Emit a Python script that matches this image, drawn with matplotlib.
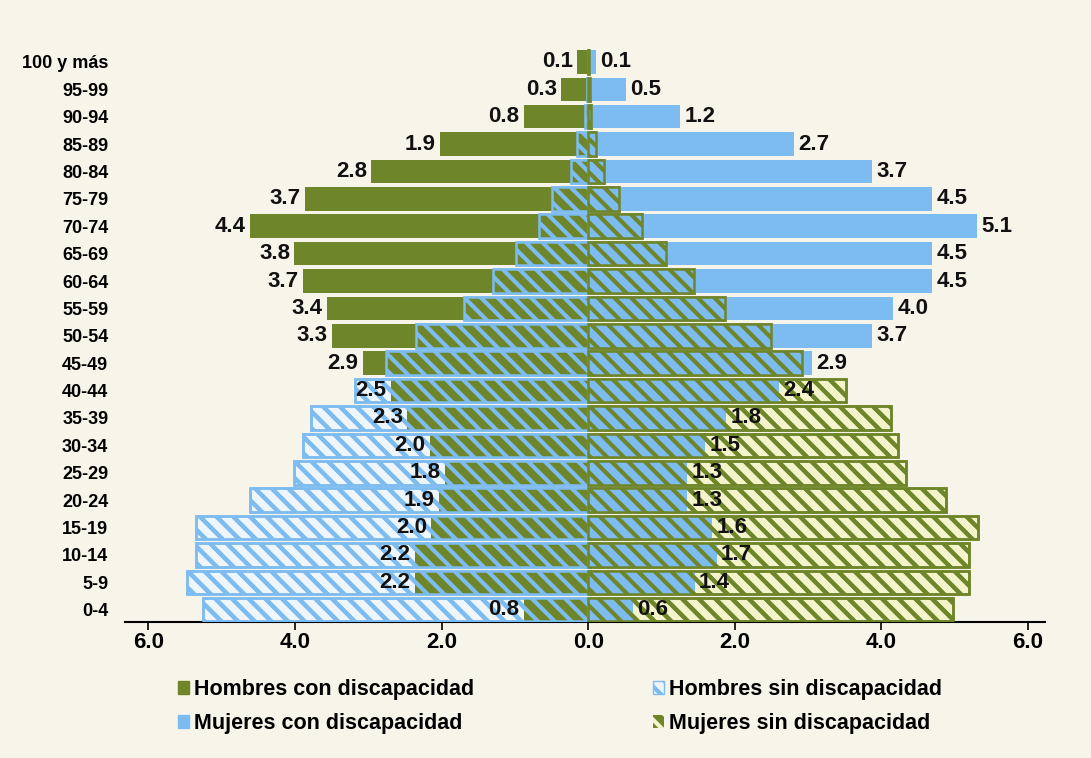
import matplotlib.pyplot as plt
from matplotlib.patches import Patch
import numpy as np

# Grupos de edad (de arriba hacia abajo)
grupos = ['100 y más', '95-99', '90-94', '85-89', '80-84', '75-79', '70-74',
          '65-69', '60-64', '55-59', '50-54', '45-49', '40-44', '35-39',
          '30-34', '25-29', '20-24', '15-19', '10-14', '5-9', '0-4']

# Etiquetas impresas (porcentaje con discapacidad)
hombres_con_etq = [0.1, 0.3, 0.8, 1.9, 2.8, 3.7, 4.4, 3.8, 3.7, 3.4, 3.3,
                   2.9, 2.5, 2.3, 2.0, 1.8, 1.9, 2.0, 2.2, 2.2, 0.8]
mujeres_con_etq = [0.1, 0.5, 1.2, 2.7, 3.7, 4.5, 5.1, 4.5, 4.5, 4.0, 3.7,
                   2.9, 2.4, 1.8, 1.5, 1.3, 1.3, 1.6, 1.7, 1.4, 0.6]

# Largo de las barras
hombres_con = [0.15, 0.37, 0.88, 2.02, 2.96, 3.87, 4.61, 4.01, 3.89, 3.57, 3.50,
               3.08, 2.69, 2.47, 2.16, 1.95, 2.04, 2.14, 2.37, 2.37, 0.88]
hombres_sin = [0.01, 0.02, 0.04, 0.15, 0.23, 0.49, 0.67, 0.98, 1.30, 1.69, 2.35,
               2.76, 3.18, 3.78, 3.89, 4.01, 4.61, 5.35, 5.35, 5.48, 5.26]
mujeres_con = [0.10, 0.51, 1.25, 2.81, 3.87, 4.69, 5.30, 4.69, 4.69, 4.16, 3.87,
               3.05, 2.60, 1.88, 1.59, 1.35, 1.35, 1.69, 1.75, 1.45, 0.61]
mujeres_sin = [0.01, 0.02, 0.04, 0.10, 0.21, 0.42, 0.73, 1.06, 1.44, 1.86, 2.49,
               2.92, 3.52, 4.13, 4.23, 4.34, 4.88, 5.31, 5.19, 5.19, 4.97]

ticks = [-6, -4, -2, 0, 2, 4, 6]
ticks_etq = ['6.0', '4.0', '2.0', '0.0', '2.0', '4.0', '6.0']

# Colores
verde = '#6E8529'
azul = '#7DBCF0'
azul_claro = '#EEF6FB'
amarillo = '#F3F3CC'
fondo = '#F7F5EA'

plt.rcParams['font.family'] = ['Liberation Sans', 'DejaVu Sans']
plt.rcParams['hatch.linewidth'] = 3.0

y = np.arange(len(grupos))[::-1]
h = 0.86
hc = -np.array(hombres_con)
hs = -np.array(hombres_sin)

fig = plt.figure(figsize=(10.91, 7.58), dpi=100, facecolor=fondo)
ax = fig.add_axes([0.1146, 0.1794, 0.8432, 0.7606], facecolor=fondo)

# Hombres: sin discapacidad (fondo), con discapacidad, trama encima
ax.barh(y, hs, height=h, color=azul_claro, edgecolor=azul, linewidth=1.8,
        hatch='\\\\', zorder=1)
ax.barh(y, hc, height=h, color=verde, linewidth=0, zorder=2)
ax.barh(y, hs, height=h, facecolor='none', edgecolor=azul, linewidth=1.8,
        hatch='\\\\', zorder=3)

# Mujeres
ax.barh(y, mujeres_sin, height=h, color=amarillo, edgecolor=verde, linewidth=1.8,
        hatch='\\\\', zorder=1)
ax.barh(y, mujeres_con, height=h, color=azul, linewidth=0, zorder=2)
ax.barh(y, mujeres_sin, height=h, facecolor='none', edgecolor=verde, linewidth=1.8,
        hatch='\\\\', zorder=3)

# Etiquetas de valores
for yi, v, e in zip(y, hc, hombres_con_etq):
    ax.text(v - 0.06, yi, f'{e:.1f}', ha='right', va='center', fontsize=16,
            fontweight='bold', color='#111111', zorder=5)
for yi, v, e in zip(y, mujeres_con, mujeres_con_etq):
    ax.text(v + 0.06, yi, f'{e:.1f}', ha='left', va='center', fontsize=16,
            fontweight='bold', color='#111111', zorder=5)

ax.set_xlim(-6.32, 6.23)
ax.set_ylim(-0.45, 20.6)
ax.set_xticks(ticks)
ax.set_xticklabels(ticks_etq, fontsize=16, fontweight='bold')
ax.set_yticks(y)
ax.set_yticklabels(grupos, fontsize=13, fontweight='bold')
ax.tick_params(axis='y', length=0, pad=12)
ax.tick_params(axis='x', length=6, width=1.2, direction='out', pad=1)
for s in ['top', 'right', 'left']:
    ax.spines[s].set_visible(False)
ax.spines['bottom'].set_linewidth(1.5)

# Leyenda
handles = [
    Patch(facecolor=verde, edgecolor=verde),
    Patch(facecolor=azul, edgecolor=azul),
    Patch(facecolor=azul_claro, edgecolor=azul, hatch='\\\\'),
    Patch(facecolor=verde, edgecolor=amarillo, hatch='\\\\', linewidth=0),
]
labels = ['Hombres con discapacidad', 'Mujeres con discapacidad',
          'Hombres sin discapacidad', 'Mujeres sin discapacidad']
fig.legend(handles, labels, ncol=2, loc='upper left', bbox_to_anchor=(0.145, 0.13),
           frameon=False, handlelength=0.55, handleheight=0.55,
           handletextpad=0.2, labelspacing=0.6, columnspacing=8.3,
           prop={'weight': 'bold', 'size': 15.5})

plt.savefig('out.png', dpi=100, facecolor=fondo)
